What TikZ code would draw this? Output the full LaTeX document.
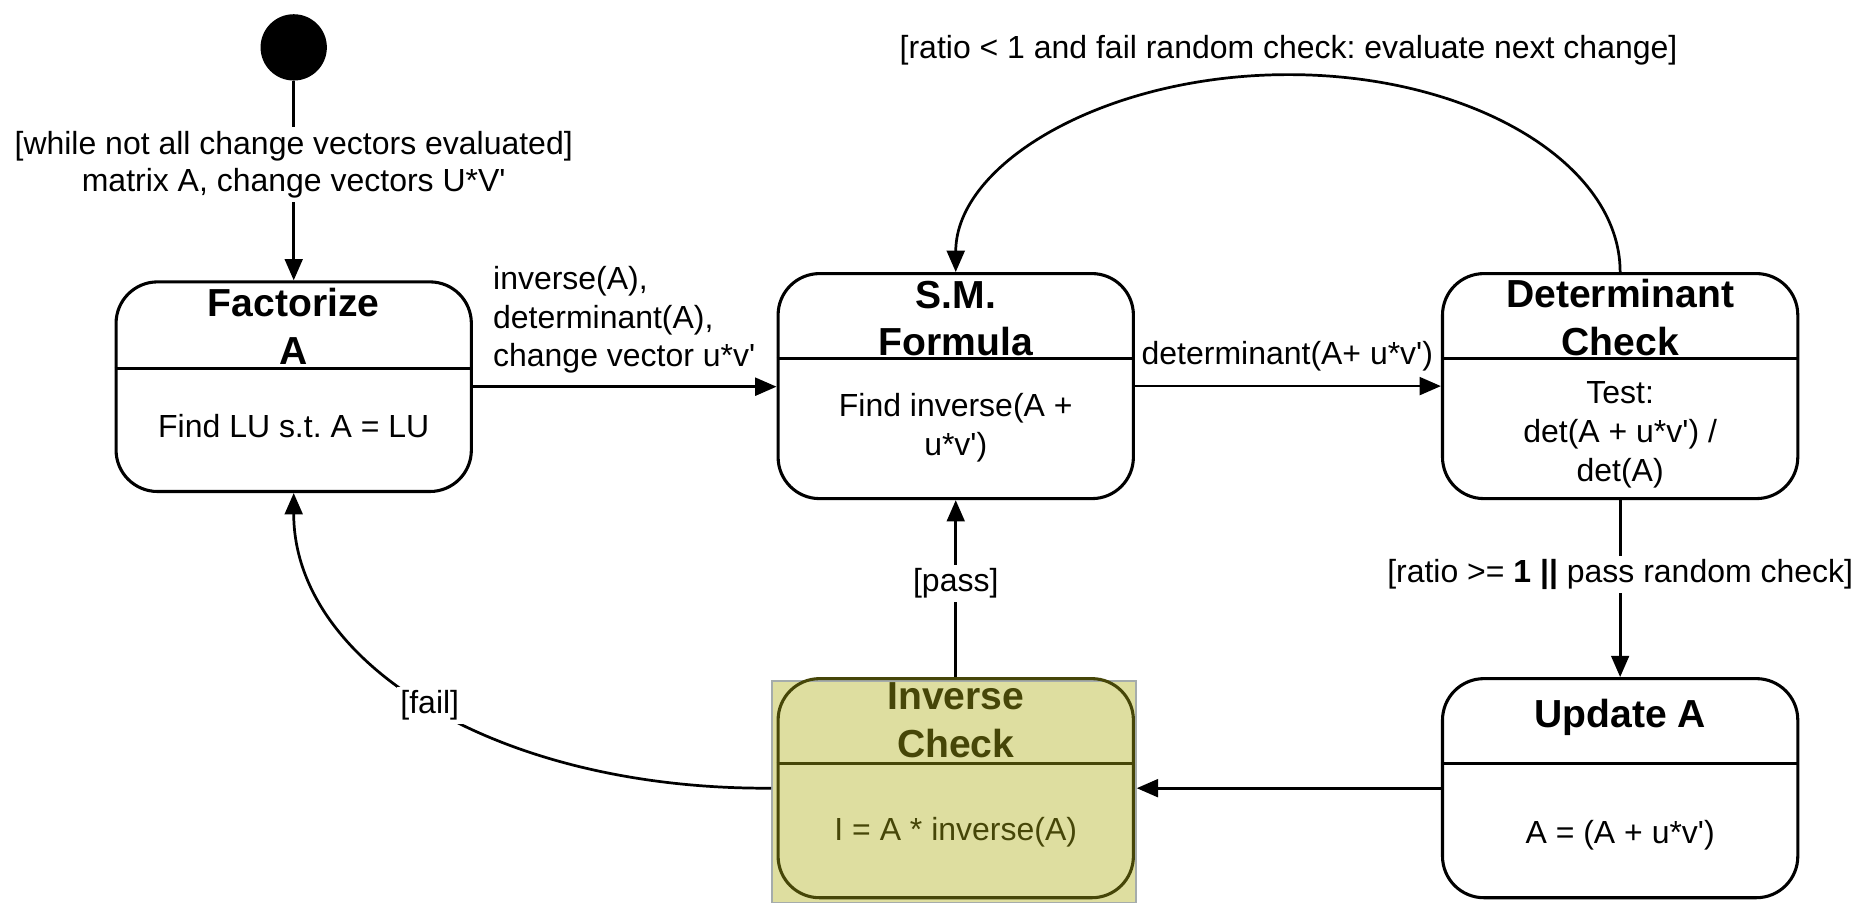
\documentclass[tikz,border=0pt]{standalone}
\usepackage{fontspec}
\setmainfont{Liberation Sans}[Ligatures=TeXOff]
\usetikzlibrary{arrows.meta}
\definecolor{hlfill}{RGB}{222,222,160}
\definecolor{olivetext}{RGB}{70,70,8}
\definecolor{hlborder}{RGB}{165,172,172}
\frenchspacing
\begin{document}
\begin{tikzpicture}[x=0.5pt,y=-0.5pt,
  state/.style={draw, rounded corners=17.5pt, line width=1.3pt, minimum width=150pt, inner sep=0pt},
  divider/.style={line width=1.3pt},
  titletext/.style={font=\bfseries\fontsize{16.5}{20}\selectfont, align=center, inner sep=0pt},
  bodytext/.style={font=\fontsize{13.5}{16.5}\selectfont, align=center, inner sep=0pt},
  lbl/.style={font=\fontsize{13.5}{16}\selectfont, align=center, fill=white, inner sep=1.5pt},
  arr/.style={-{Triangle[length=9pt,width=7.5pt]}, line width=1.15pt},
]
\useasboundingbox (0,0) rectangle (1568,762);

% initial state
\node[circle, fill=black, minimum size=28pt, inner sep=0pt] (init) at (248,40) {};

% Factorize A
\node[state, minimum height=88.5pt] (fa) at (248,326.5) {};
\draw[divider] (fa.west |- 0,311) -- (fa.east |- 0,311);
\node[titletext] (faT) at (248,275.5) {Factorize\\A};
\node[bodytext] (faB) at (248,360) {Find LU s.t. A = LU};

% S.M. Formula
\node[state, minimum height=95pt] (sm) at (807,326) {};
\draw[divider] (sm.west |- 0,303) -- (sm.east |- 0,303);
\node[titletext] (smT) at (807,269) {S.M.\\Formula};
\node[bodytext] (smB) at (807,361) {Find inverse(A +\\u*v')};

% Determinant Check
\node[state, minimum height=95pt] (dc) at (1368,326) {};
\draw[divider] (dc.west |- 0,303) -- (dc.east |- 0,303);
\node[titletext] (dcT) at (1368,268) {Determinant\\Check};
\node[bodytext] (dcB) at (1368,367) {Test:\\det(A + u*v') /\\det(A)};

% Update A
\node[state, minimum height=92.5pt] (up) at (1368,665.5) {};
\draw[divider] (up.west |- 0,645) -- (up.east |- 0,645);
\node[titletext] (upT) at (1368,606) {Update A};
\node[bodytext] (upB) at (1368,705) {A = (A + u*v')};

% Inverse Check (highlighted)
\node[draw=hlborder, fill=hlfill, line width=0.8pt, minimum width=153.5pt, minimum height=93.5pt, inner sep=0pt] (hl) at (805.5,668.5) {};
\node[state, draw=olivetext, minimum height=92.5pt] (ic) at (807,665.5) {};
\draw[divider, olivetext] (ic.west |- 0,645) -- (ic.east |- 0,645);
\node[titletext, text=olivetext] (icT) at (807,608) {Inverse\\Check};
\node[bodytext, text=olivetext] (icB) at (807,703) {I = A * inverse(A)};

% connectors
\draw[arr] (init.south) -- (fa.north)
  node[lbl, pos=0.42] (l1) {[while not all change vectors evaluated]\\matrix A, change vectors U*V'};

\draw[arr] (fa.east) -- (fa.east -| sm.west);
\node[font=\fontsize{13.5}{16.25}\selectfont, align=left, anchor=west, inner sep=0pt] (l2) at (416,270) {inverse(A),\\determinant(A),\\change vector u*v'};

\draw[arr] (sm.east) -- (dc.west);
\node[font=\fontsize{13.5}{16}\selectfont, inner sep=0pt] (l3) at (1087,301) {determinant(A+ u*v')};

\coordinate (peak) at (1088,63);
\draw[arr] (dc.north) .. controls (1368,138) and (1243,63) .. (peak)
  .. controls (933,63) and (807,138) .. (sm.north);
\node[font=\fontsize{13.5}{16}\selectfont, inner sep=0pt] (l4) at (1088,42) {[ratio < 1 and fail random check: evaluate next change]};

\draw[arr] (dc.south) -- (up.north)
  node[lbl, pos=0.42] (l5) {[ratio >= \textbf{1 ||} pass random check]};

\draw[arr] (up.west) -- (up.west -| hl.east);

\draw[arr] (ic.north) -- (sm.south)
  node[lbl, pos=0.53] (l6) {[pass]};

\draw[arr] (hl.west |- ic.west) .. controls (420,667) and (248,560) .. (fa.south)
  node[lbl, pos=0.5] (l7) {[fail]};
\end{tikzpicture}
\end{document}
